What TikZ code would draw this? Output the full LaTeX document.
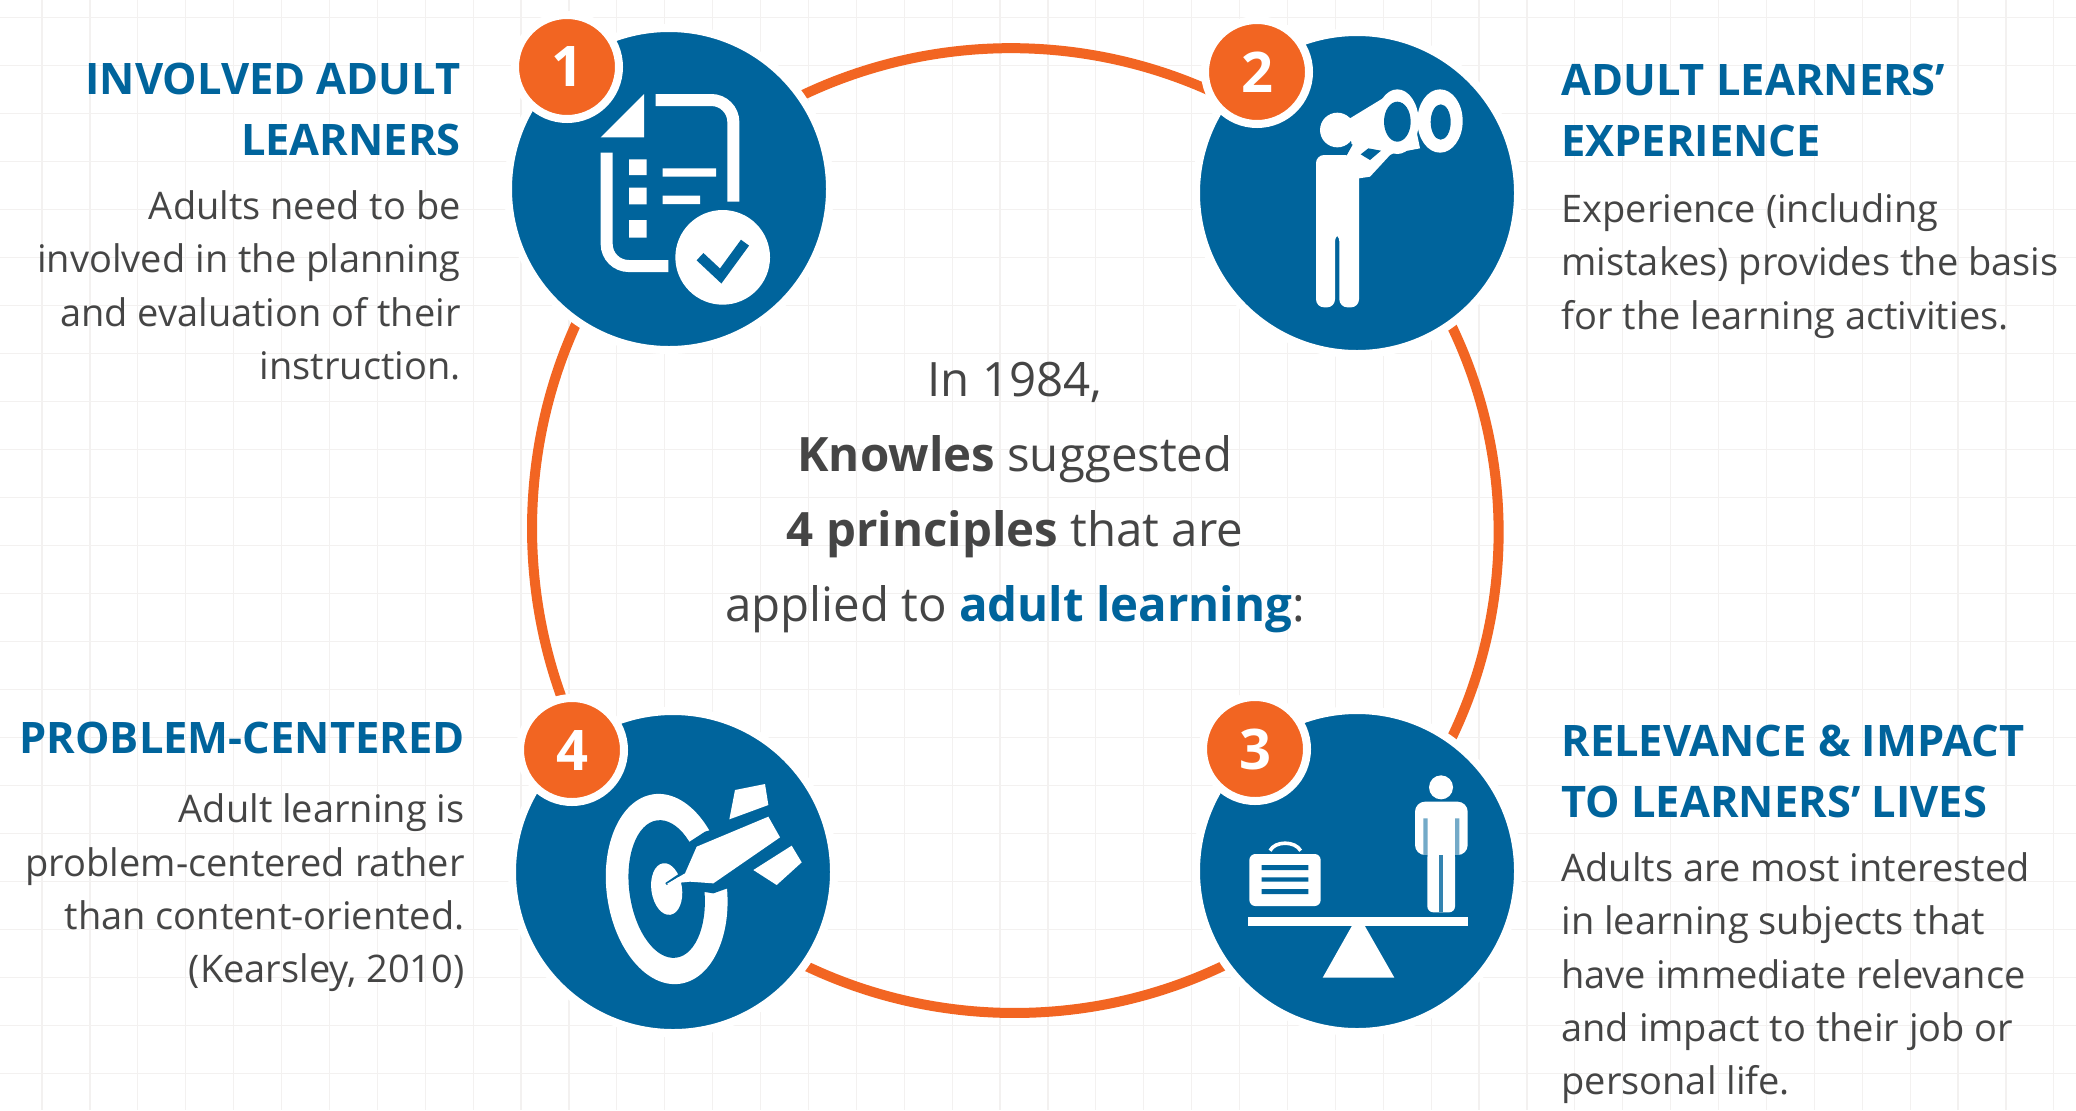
\documentclass[tikz,border=0pt]{standalone}
\usepackage{fontspec}
\setmainfont{Open Sans}
\pgfdeclarelayer{bg}
\pgfsetlayers{bg,main}
\definecolor{kblue}{HTML}{00649C}
\definecolor{korange}{HTML}{F26522}
\definecolor{ktext}{HTML}{454545}
\definecolor{kgrid}{HTML}{F3F1F0}
\tikzset{
  x=0.5pt,y=-0.5pt,
  bigdisc/.style={circle,fill=kblue,draw=white,line width=4pt,minimum size=161pt,inner sep=0pt},
  badge/.style={circle,fill=korange,draw=white,line width=4pt,minimum size=52pt,inner sep=0pt,text=white,font=\fontsize{28}{28}\selectfont\bfseries},
  ringarc/.style={draw=korange,line width=5pt},
  gridline/.style={draw=kgrid,line width=0.6pt},
  headtext/.style={inner sep=0pt,text=kblue,font=\fontsize{21.7}{30.5}\selectfont\bfseries},
  bodytext/.style={inner sep=0pt,text=ktext,font=\fontsize{19}{26.7}\selectfont},
  centertext/.style={inner sep=0pt,text=ktext,align=center,font=\fontsize{23.7}{37.5}\selectfont},
  zoomed/.style={x=0.16667pt,y=-0.16667pt},
}
\begin{document}
\begin{tikzpicture}
\useasboundingbox (0,0) rectangle (2076,1110);
\node[bigdisc] (c1) at (669,189) {};
\node[bigdisc] (c2) at (1357,193) {};
\node[bigdisc] (c3) at (1357,871) {};
\node[bigdisc] (c4) at (673,872) {};
\begin{pgfonlayer}{bg}
  \fill[white] (0,0) rectangle (2076,1110);
  \foreach \k in {0,...,43}{\pgfmathsetmacro\gx{42+47.9*\k}\draw[gridline] (\gx,0) -- (\gx,1110);}
  \foreach \k in {0,...,23}{\pgfmathsetmacro\gy{17.3+48*\k}\draw[gridline] (0,\gy) -- (2076,\gy);}
  \draw[ringarc] (c1.center) to[bend left=45] (c2.center);
  \draw[ringarc] (c2.center) to[bend left=45,looseness=1.01] (c3.center);
  \draw[ringarc] (c3.center) to[bend left=45] (c4.center);
  \draw[ringarc] (c4.center) to[bend left=45,looseness=0.98] (c1.center);
\end{pgfonlayer}
% icon 1: checklist
\begin{scope}[shift={(480,0)},zoomed]
  \fill[white] (362,412) -- (492,412) -- (492,282) -- cycle;
  \draw[white,line width=6pt,rounded corners=11pt] (527,300) -- (760,300) -- (760,605);
  \draw[white,line width=6pt,rounded corners=11pt] (380,458) -- (380,798) -- (565,798);
  \fill[white] (447,478) rectangle (500,525) (447,563) rectangle (500,613) (447,660) rectangle (500,713);
  \fill[white] (548,505) rectangle (708,530) (548,587) rectangle (660,612);
  \fill[white] (728,772) circle [x radius=142,y radius=142];
  \draw[kblue,line width=5pt] (660,770) -- (722,828) -- (795,728);
\end{scope}
% icon 2: person with binoculars
\begin{scope}[shift={(1180,20)},zoomed]
  \fill[white] (472,330) ellipse [x radius=52,y radius=52];
  \fill[white,rounded corners=4pt] (408,405) -- (537,405) -- (537,862) -- (478,862) -- (478,640) -- (465,640) -- (465,862) -- (408,862) -- cycle;
  \fill[white] (505,298) -- (625,225) -- (690,240) -- (720,385) -- (640,400) -- (630,405) -- (570,470) -- (537,475) -- (500,405) -- (515,375) -- cycle;
  \fill[white] (652,305) ellipse [x radius=64,y radius=97];
  \fill[white] (780,303) ellipse [x radius=68,y radius=95];
  \fill[kblue] (652,305) ellipse [x radius=40,y radius=60];
  \fill[kblue] (782,306) ellipse [x radius=30,y radius=53];
  \fill[kblue] (542,403) -- (565,385) -- (603,392) -- (570,420) -- cycle;
  \draw[kblue,line width=0.7pt] (498,405) -- (516,373);
\end{scope}
% icon 3: balance
\begin{scope}[shift={(1180,700)},zoomed]
  \fill[white] (783,262) ellipse [x radius=36,y radius=36];
  \fill[white,rounded corners=5pt] (705,465) -- (705,305) -- (863,305) -- (863,465) -- cycle;
  \fill[white,rounded corners=3pt] (742,440) rectangle (825,637);
  \fill[kblue!55!white] (730,355) rectangle (743,465) (825,355) rectangle (838,465);
  \fill[kblue] (730,465) rectangle (742,470) (825,465) rectangle (838,470);
  \fill[kblue!80!white] (778,465) rectangle (790,637);
  \fill[white,rounded corners=3pt] (208,462) rectangle (422,618);
  \fill[kblue] (245,495) rectangle (385,510) (245,532) rectangle (385,545) (245,567) rectangle (385,582);
  \draw[white,line width=1.8pt] (270,452) .. controls (285,422) and (345,422) .. (362,452);
  \fill[white] (203,650) rectangle (865,677);
  \fill[white] (520,670) -- (550,670) -- (643,833) -- (428,833) -- cycle;
\end{scope}
% icon 4: target and dart
\begin{scope}[shift={(500,700)},zoomed]
  \begin{scope}[rotate around={8:(500,567)}]
    \fill[white] (500,567) ellipse [x radius=180,y radius=287];
    \fill[kblue] (500,567) ellipse [x radius=112,y radius=208];
    \fill[white] (500,567) ellipse [x radius=46,y radius=78];
  \end{scope}
  \fill[kblue] (552,436) -- (615,395) -- (800,340) -- (800,500) -- (682,565) -- (640,580) -- (590,572) -- (552,520) -- cycle;
  \draw[kblue,line width=1.2pt] (498,552) -- (545,520);
  \fill[white] (500,552) -- (555,520) -- (590,440) -- (805,350) -- (840,412) -- (640,550) -- (570,545) -- cycle;
  \fill[white] (705,270) -- (795,252) -- (805,315) -- (688,358) -- cycle;
  \fill[white] (760,510) -- (875,437) -- (905,487) -- (830,555) -- cycle;
\end{scope}
% badges
\node[badge] (n1) at (567,67) {1};
\node[badge] (n2) at (1257,72) {2};
\node[badge] (n3) at (1255,749) {3};
\node[badge] (n4) at (572,750) {4};
% texts
\node[headtext,anchor=north east,align=right] (h1) at (461,62.5) {INVOLVED ADULT\\LEARNERS};
\node[bodytext,anchor=north east,align=right] (t1) at (461,190) {Adults need to be\\involved in the planning\\and evaluation of their\\instruction.};
\node[headtext,anchor=north west,align=left] (h2) at (1561,63.5) {ADULT LEARNERS’\\EXPERIENCE};
\node[bodytext,anchor=north west,align=left] (t2) at (1561,193) {Experience (including\\mistakes) provides the basis\\for the learning activities.};
\node[headtext,anchor=north west,align=left] (h3) at (1561,724.5) {RELEVANCE \& IMPACT\\TO LEARNERS’ LIVES};
\node[bodytext,anchor=north west,align=left] (t3) at (1561,852) {Adults are most interested\\in learning subjects that\\have immediate relevance\\and impact to their job or\\personal life.};
\node[headtext,anchor=north east,align=right] (h4) at (465,721.5) {PROBLEM-CENTERED};
\node[bodytext,anchor=north east,align=right] (t4) at (465,793.5) {Adult learning is\\problem-centered rather\\than content-oriented.\\(Kearsley, 2010)};
\node[centertext] (mid) at (1015,497.5) {In 1984,\\\textbf{Knowles} suggested\\\textbf{4 principles} that are\\applied to \textcolor{kblue}{\textbf{adult learning}}:};
\end{tikzpicture}
\end{document}
